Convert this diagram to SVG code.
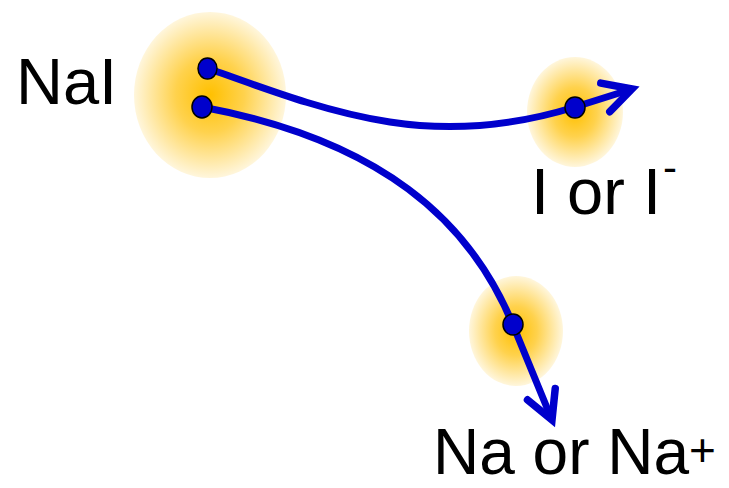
<svg xmlns="http://www.w3.org/2000/svg" width="729" height="488" viewBox="0 0 729 488">
<defs>
<radialGradient id="glow" cx="0.5" cy="0.5" r="0.5">
<stop offset="0" stop-color="#FFC000"/>
<stop offset="0.45" stop-color="#FFD24D"/>
<stop offset="1" stop-color="#FFF6DC"/>
</radialGradient>
<marker id="chev" markerUnits="userSpaceOnUse" orient="auto" markerWidth="60" markerHeight="60" refX="0" refY="0" viewBox="-40 -30 60 60" overflow="visible">
<path d="M-28,-15 L0,0 L-28,15" fill="none" stroke="#0000CC" stroke-width="7.5" stroke-linejoin="miter" stroke-linecap="round"/>
</marker>
<style>
.glow{fill:url(#glow);}
.dot{fill:#0000CC;stroke:#000;stroke-width:1.5;}
.link{fill:none;stroke:#0000CC;stroke-width:7;marker-end:url(#chev);}
.lbl{font-family:"Liberation Sans",Arial,sans-serif;font-size:65px;fill:#000;}
.sup{font-size:42px;}
.big{font-size:64px;}
</style>
</defs>
<rect width="729" height="488" fill="#fff"/>
<g id="NaI">
<ellipse class="glow" cx="210" cy="95" rx="76" ry="83"/>
<text class="lbl" x="16" y="104">NaI</text>
</g>
<g id="I">
<ellipse class="glow" cx="575" cy="112" rx="48" ry="55"/>
<text class="lbl" x="531" y="214">I or I<tspan class="sup" dx="2" dy="-32">-</tspan></text>
</g>
<g id="Na">
<ellipse class="glow" cx="516" cy="331" rx="47" ry="55"/>
<text class="lbl big" x="433" y="474">Na or Na<tspan class="sup" style="font-size:46px" dy="-8">+</tspan></text>
</g>
<g id="connectors">
<path class="link" d="M207,68 C330,112 430,152 575,107 L632,89"/>
<path class="link" d="M202,107 C380,140 470,220 513,325 L552,420"/>
<ellipse class="dot" cx="207.5" cy="68.5" rx="9.5" ry="10.5"/>
<ellipse class="dot" cx="202" cy="107" rx="10" ry="11"/>
<ellipse class="dot" cx="575" cy="107.5" rx="10" ry="10.5"/>
<ellipse class="dot" cx="513" cy="324.5" rx="10" ry="10.5"/>
</g>
</svg>
